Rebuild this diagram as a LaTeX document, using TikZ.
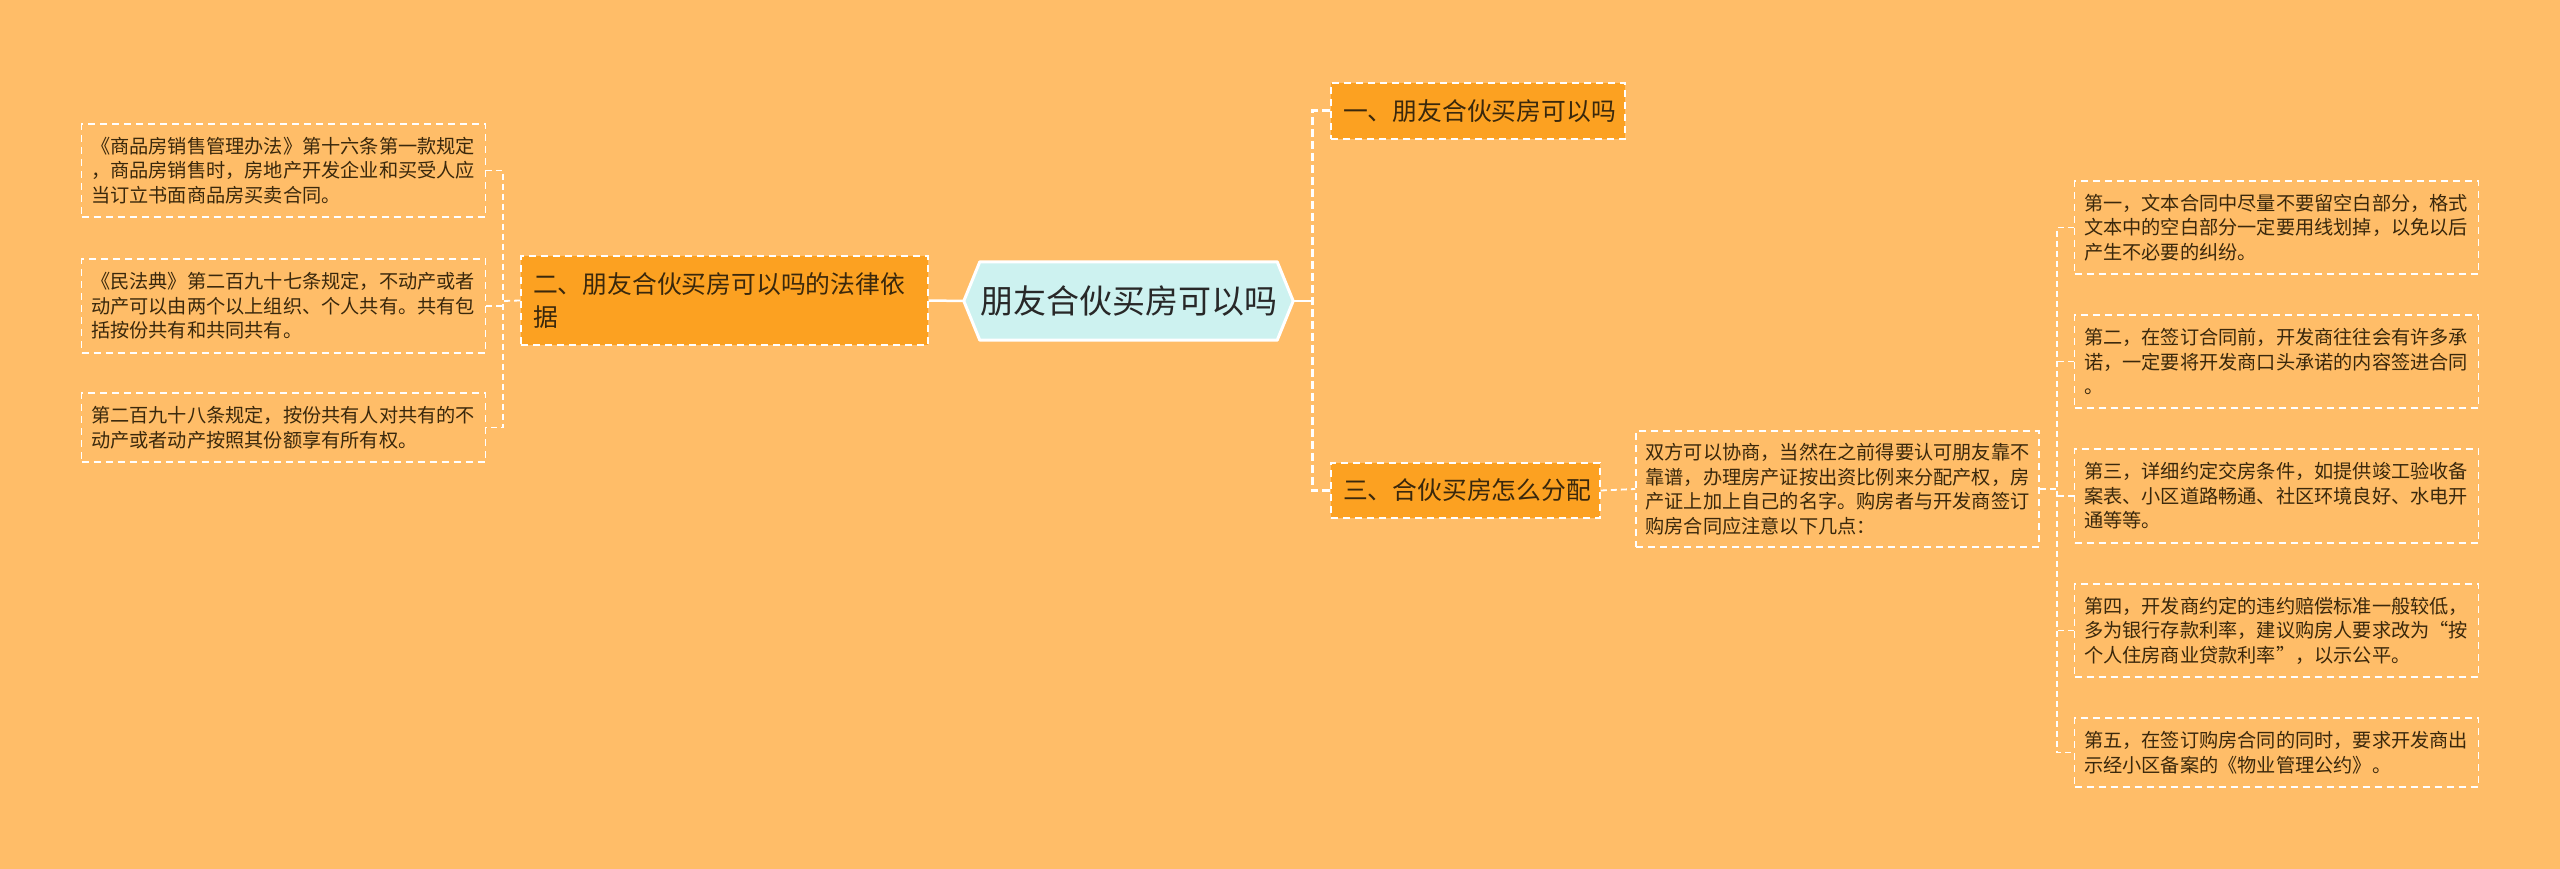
\documentclass[tikz,border=0pt]{standalone}
\usepackage{fontspec}
\setmainfont{Noto Sans CJK SC}
\usetikzlibrary{backgrounds}
\definecolor{bgc}{RGB}{255,189,104}
\definecolor{lvfill}{RGB}{252,161,33}
\definecolor{cfill}{RGB}{205,242,240}
\definecolor{ltext}{RGB}{58,40,12}
\definecolor{ctext}{RGB}{40,40,40}
\tikzset{
  hub/.style={minimum width=329pt, minimum height=78pt, inner sep=0pt,
    font=\fontsize{33}{40}\selectfont, text=ctext},
  lv/.style={fill=lvfill, draw=white, dash pattern=on 7pt off 5pt, line width=1.6pt,
    font=\fontsize{24.8}{33}\selectfont, text=ltext, inner xsep=12pt, inner ysep=0pt, align=left},
  leaf/.style={draw=white, dash pattern=on 7pt off 5pt, line width=1.5pt,
    font=\fontsize{19.2}{24.5}\selectfont, text=ltext, inner xsep=9.5pt, inner ysep=0pt,
    text width=385pt, align=left},
  hubline/.style={draw=white, line width=2.5pt},
  trunk/.style={draw=white, line width=3pt, dash pattern=on 8pt off 4pt},
  link/.style={draw=white, line width=1.8pt, dash pattern=on 6pt off 4pt}
}
\begin{document}
\begin{tikzpicture}[x=1pt,y=-1pt]
\begin{pgfonlayer}{background}
\fill[bgc] (0,0) rectangle (2560,869);
\end{pgfonlayer}
\useasboundingbox (0,0) rectangle (2560,869);

% central
\node[hub] (c) at (1128.5,301) {朋友合伙买房可以吗};
\begin{pgfonlayer}{background}
\filldraw[fill=cfill, draw=white, line width=3pt, line join=round]
  (c.west) -- ([xshift=16pt]c.north west) -- ([xshift=-16pt]c.north east) -- (c.east)
  -- ([xshift=-16pt]c.south east) -- ([xshift=16pt]c.south west) -- cycle;
\end{pgfonlayer}

% level 1
\node[lv, text width=270pt, minimum height=56pt] (n1) at (1478,111) {一、朋友合伙买房可以吗};
\node[lv, text width=383pt, minimum height=89pt] (n2) at (724.5,300.5) {二、朋友合伙买房可以吗的法律依\\据};
\node[lv, text width=245pt, minimum height=55pt] (n3) at (1465.5,490.5) {三、合伙买房怎么分配};

% left leaves
\node[leaf, minimum height=93pt] (L1) at (283.5,170.5) {《商品房销售管理办法》第十六条第一款规定\\，商品房销售时，房地产开发企业和买受人应\\当订立书面商品房买卖合同。};
\node[leaf, minimum height=94pt] (L2) at (283.5,306) {《民法典》第二百九十七条规定，不动产或者\\动产可以由两个以上组织、个人共有。共有包\\括按份共有和共同共有。};
\node[leaf, minimum height=69pt] (L3) at (283.5,427.5) {第二百九十八条规定，按份共有人对共有的不\\动产或者动产按照其份额享有所有权。};

% description
\node[leaf, minimum height=116pt, text width=384pt] (D) at (1837.5,489) {双方可以协商，当然在之前得要认可朋友靠不\\靠谱，办理房产证按出资比例来分配产权，房\\产证上加上自己的名字。购房者与开发商签订\\购房合同应注意以下几点：};

% right leaves
\node[leaf, minimum height=93pt] (R1) at (2276.5,227.5) {第一，文本合同中尽量不要留空白部分，格式\\文本中的空白部分一定要用线划掉，以免以后\\产生不必要的纠纷。};
\node[leaf, minimum height=93pt] (R2) at (2276.5,361.5) {第二，在签订合同前，开发商往往会有许多承\\诺，一定要将开发商口头承诺的内容签进合同\\。};
\node[leaf, minimum height=94pt] (R3) at (2276.5,496) {第三，详细约定交房条件，如提供竣工验收备\\案表、小区道路畅通、社区环境良好、水电开\\通等等。};
\node[leaf, minimum height=93pt] (R4) at (2276.5,630.5) {第四，开发商约定的违约赔偿标准一般较低，\\多为银行存款利率，建议购房人要求改为“按\\个人住房商业贷款利率”，以示公平。};
\node[leaf, minimum height=69pt] (R5) at (2276.5,752.5) {第五，在签订购房合同的同时，要求开发商出\\示经小区备案的《物业管理公约》。};

% junctions
\coordinate (jl) at (503,301);
\coordinate (jr) at (1312,301);
\coordinate (jd) at (2057,489);

% connectors
\draw[hubline] (c.west) -- (n2.east);
\draw[hubline] (c.east) -- (jr);
\draw[trunk] (n1.west) -| (jr) |- (n3.west);
\draw[link] (n2.west) -- (jl);
\draw[link] (L1.east) -| (jl) |- (L3.east);
\draw[link] (L2.east) -- (L2.east -| jl);
\draw[link] (n3.east) -- (D.west);
\draw[link] (D.east) -- (jd);
\draw[link] (R1.west) -| (jd) |- (R5.west);
\draw[link] (R2.west) -- (R2.west -| jd);
\draw[link] (R3.west) -- (R3.west -| jd);
\draw[link] (R4.west) -- (R4.west -| jd);
\end{tikzpicture}
\end{document}
